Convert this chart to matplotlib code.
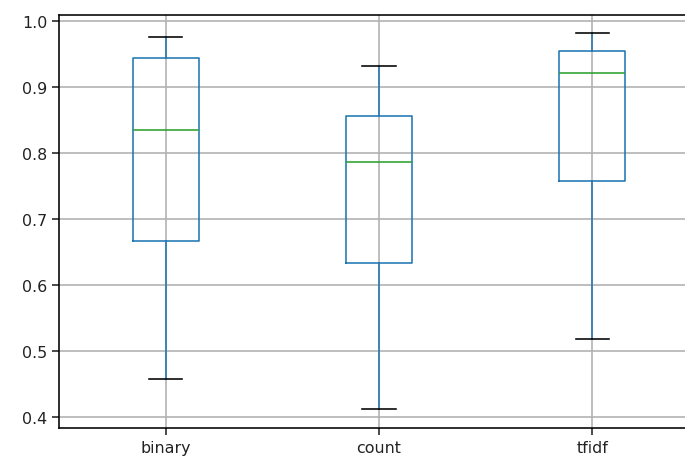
import matplotlib
matplotlib.use("Agg")
import matplotlib.pyplot as plt

categories = ["binary", "count", "tfidf"]
whislo = [0.458, 0.412, 0.518]
q1 = [0.666, 0.633, 0.758]
med = [0.835, 0.786, 0.921]
q3 = [0.944, 0.856, 0.955]
whishi = [0.976, 0.932, 0.981]

plt.rcParams["font.family"] = ["DejaVu Sans"]
plt.rcParams["font.size"] = 11.4

fig = plt.figure(figsize=(6.85, 4.64), dpi=100)
ax = fig.add_axes([59 / 685, 35 / 464, 640 / 685, 413 / 464])

stats = []
for i, c in enumerate(categories):
    stats.append(dict(label=c, whislo=whislo[i], q1=q1[i], med=med[i],
                      q3=q3[i], whishi=whishi[i], fliers=[]))

lw = 1.15
ax.bxp(stats, positions=[1, 2, 3], widths=0.31, showfliers=False,
       boxprops=dict(color="#1f77b4", linewidth=lw),
       whiskerprops=dict(color="#1f77b4", linewidth=lw),
       medianprops=dict(color="#2ca02c", linewidth=lw),
       capprops=dict(color="black", linewidth=lw))

ax.set_xlim(0.5, 3.5)
ax.set_ylim(0.3835, 1.009)
ax.set_yticks([0.4, 0.5, 0.6, 0.7, 0.8, 0.9, 1.0])
ax.grid(True, color="#b0b0b0", linewidth=1.15)
ax.set_axisbelow(True)
for s in ax.spines.values():
    s.set_linewidth(1.15)
ax.tick_params(width=1.15, length=5, colors="#222222")

fig.savefig("out.png", dpi=100)
